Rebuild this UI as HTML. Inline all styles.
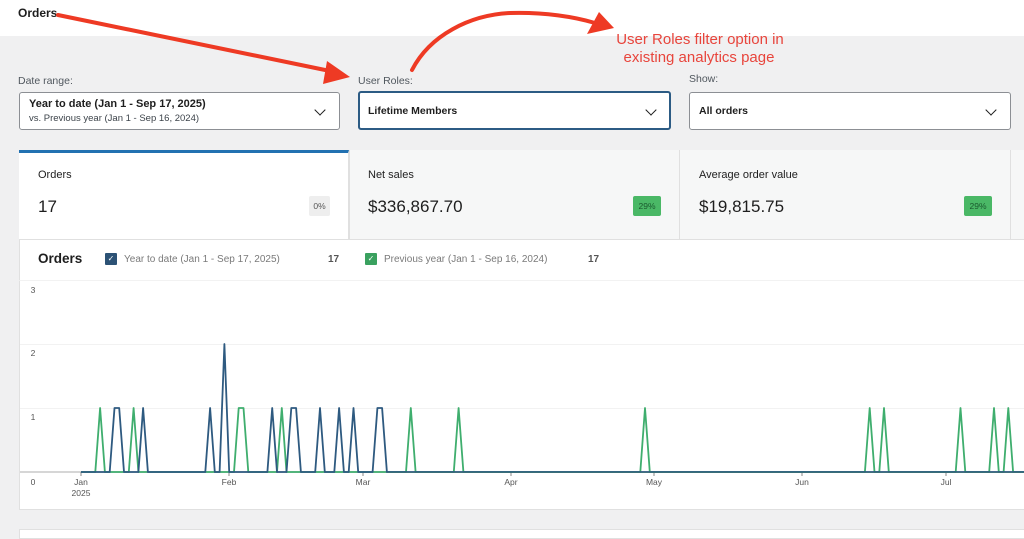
<!DOCTYPE html>
<html><head><meta charset="utf-8">
<style>
*{margin:0;padding:0;box-sizing:border-box}
body{width:1024px;height:532px;overflow:hidden;background:#f0f0f1;font-family:"Liberation Sans",Arial,sans-serif;position:relative;color:#1e1e1e}
.a{position:absolute;white-space:nowrap}
.lbl{font-size:10.5px;color:#50575e}
.sel{position:absolute;background:#fff;border:1px solid #8c8f94;border-radius:3px}
.chev{position:absolute;width:8px;height:8px;border-right:1.6px solid #1e1e1e;border-bottom:1.6px solid #1e1e1e;transform:rotate(45deg)}
.tile{position:absolute;top:150px;height:90px;background:#f6f7f7;border-right:1px solid #e0e0e0;border-bottom:1px solid #e0e0e0}
.tl{font-size:11px;color:#1e1e1e}
.tv{font-size:17px;color:#1e1e1e}
.badge{position:absolute;height:20px;width:28px;border-radius:2px;font-size:8.5px;line-height:20px;text-align:center}
.g{background:#4ab866;color:#1a5a2e}
</style></head><body>
<div class="a" style="left:0;top:0;width:1024px;height:36px;background:#fff"></div>
<div class="a" style="left:18px;top:6px;font-size:12px;font-weight:bold">Orders</div>

<div class="a lbl" style="left:18px;top:75px">Date range:</div>
<div class="a lbl" style="left:358px;top:75px">User Roles:</div>
<div class="a lbl" style="left:689px;top:73px">Show:</div>

<div class="sel" style="left:19px;top:92px;width:321px;height:38px"></div>
<div class="a" style="left:29px;top:98px;font-size:11px;font-weight:bold">Year to date (Jan 1 - Sep 17, 2025)</div>
<div class="a" style="left:29px;top:113px;font-size:9.5px;color:#3c434a">vs. Previous year (Jan 1 - Sep 16, 2024)</div>
<div class="chev" style="left:316px;top:106px"></div>

<div class="sel" style="left:358px;top:91px;width:313px;height:39px;border:2px solid #2c5b84"></div>
<div class="a" style="left:368px;top:105px;font-size:10.5px;font-weight:bold">Lifetime Members</div>
<div class="chev" style="left:647px;top:106px"></div>

<div class="sel" style="left:689px;top:92px;width:322px;height:38px"></div>
<div class="a" style="left:699px;top:105px;font-size:10.5px;font-weight:bold">All orders</div>
<div class="chev" style="left:987px;top:106px"></div>

<!-- tiles -->
<div class="tile" style="left:19px;width:330px;background:#fff;border-top:3px solid #2271b1"></div>
<div class="tile" style="left:349px;width:331px;border-left:1px solid #e0e0e0"></div>
<div class="tile" style="left:680px;width:331px"></div>
<div class="tile" style="left:1011px;width:20px"></div>
<div class="a tl" style="left:38px;top:169px">Orders</div>
<div class="a tv" style="left:38px;top:197px">17</div>
<div class="badge" style="left:309px;top:196px;width:21px;background:#eee;color:#555">0%</div>
<div class="a tl" style="left:368px;top:169px">Net sales</div>
<div class="a tv" style="left:368px;top:197px">$336,867.70</div>
<div class="badge g" style="left:633px;top:196px">29%</div>
<div class="a tl" style="left:699px;top:169px">Average order value</div>
<div class="a tv" style="left:699px;top:197px">$19,815.75</div>
<div class="badge g" style="left:964px;top:196px">29%</div>

<!-- chart panel -->
<div class="a" style="left:19px;top:240px;width:1010px;height:270px;background:#fff;border-left:1px solid #e0e0e0;border-bottom:1px solid #e0e0e0"></div>
<div class="a" style="left:19px;top:280px;width:1010px;height:1px;background:#ececec"></div>
<div class="a" style="left:38px;top:251px;font-size:13.5px;font-weight:bold;color:#1e1e1e">Orders</div>
<div class="a" style="left:105px;top:253px;width:12px;height:12px;background:#2c5275;border-radius:1px;color:#fff;font-size:8px;line-height:12px;text-align:center">✓</div>
<div class="a" style="left:124px;top:254px;font-size:10px;color:#7a7a7a">Year to date (Jan 1 - Sep 17, 2025)</div>
<div class="a" style="left:328px;top:254px;font-size:10px;font-weight:bold;color:#555">17</div>
<div class="a" style="left:365px;top:253px;width:12px;height:12px;background:#3aa15f;border-radius:1px;color:#fff;font-size:8px;line-height:12px;text-align:center">✓</div>
<div class="a" style="left:384px;top:254px;font-size:10px;color:#7a7a7a">Previous year (Jan 1 - Sep 16, 2024)</div>
<div class="a" style="left:588px;top:254px;font-size:10px;font-weight:bold;color:#555">17</div>

<div class="a" style="left:19px;top:529px;width:1010px;height:10px;background:#fff;border:1px solid #e0e0e0"></div>

<svg class="a" style="left:0;top:0" width="1024" height="532" viewBox="0 0 1024 532">
<g stroke="#f2f2f2" stroke-width="1">
<line x1="20" y1="280.5" x2="1024" y2="280.5"/>
<line x1="20" y1="344.5" x2="1024" y2="344.5"/>
<line x1="20" y1="408.5" x2="1024" y2="408.5"/>
</g>
<line x1="20" y1="472" x2="1024" y2="472" stroke="#c8c8c8" stroke-width="1.5"/>
<g stroke="#888" stroke-width="1">
<line x1="81" y1="472" x2="81" y2="476"/><line x1="229" y1="472" x2="229" y2="476"/>
<line x1="363" y1="472" x2="363" y2="476"/><line x1="511" y1="472" x2="511" y2="476"/>
<line x1="654" y1="472" x2="654" y2="476"/><line x1="802" y1="472" x2="802" y2="476"/>
<line x1="946" y1="472" x2="946" y2="476"/>
</g>
<g font-family="Liberation Sans, Arial, sans-serif" font-size="8.5" fill="#555" text-anchor="middle">
<text x="33" y="293">3</text><text x="33" y="356">2</text><text x="33" y="420">1</text><text x="33" y="485">0</text>
<text x="81" y="485">Jan</text><text x="81" y="496">2025</text>
<text x="229" y="485">Feb</text><text x="363" y="485">Mar</text><text x="511" y="485">Apr</text>
<text x="654" y="485">May</text><text x="802" y="485">Jun</text><text x="946" y="485">Jul</text>
</g>
<polyline fill="none" stroke="#3fae6e" stroke-width="1.8" stroke-linejoin="round" points="81,472 95.3,472 100.1,408 104.9,472 128.8,472 133.6,408 138.4,472 234,472 238.7,408 243.5,408 248.3,472 277,472 281.8,408 286.5,472 406,472 410.8,408 415.6,472 453.8,472 458.6,408 463.4,472 640.3,472 645,408 649.8,472 864.9,472 869.7,408 874.5,472 879.3,472 884,408 888.8,472 955.7,472 960.5,408 965.3,472 989.2,472 994,408 998.8,472 1003.6,472 1008.3,408 1013.1,472 1024,472"/>
<polyline fill="none" stroke="#2e5a80" stroke-width="1.8" stroke-linejoin="round" points="81,472 109.7,472 114.5,408 119.2,408 124,472 138.4,472 143.1,408 147.9,472 205.3,472 210.1,408 214.8,472 219.6,472 224.4,344 229.2,472 267.4,472 272.2,408 277,472 286.5,472 291.3,408 296.1,408 300.9,472 315.2,472 320,408 324.8,472 334.3,472 339.1,408 343.9,472 348.7,472 353.5,408 358.2,472 372.6,472 377.4,408 382.1,408 386.9,472 1024,472"/>
<polyline fill="none" stroke="#3e7670" stroke-width="1" points="387,472.5 1024,472.5" opacity="0.5"/>

<!-- annotation arrows -->
<line x1="58" y1="15" x2="330" y2="71" stroke="#ee3a24" stroke-width="4" stroke-linecap="round"/>
<polygon points="327,61 350,77 323,84" fill="#ee3a24"/>
<path d="M412,70 C430,35 470,15 510,13 C545,12 575,17 595,23" fill="none" stroke="#ee3a24" stroke-width="4" stroke-linecap="round"/>
<polygon points="599,12 614,28 587,34" fill="#ee3a24"/>
<g font-family="Liberation Sans, Arial, sans-serif" font-size="15" fill="#e8453c" text-anchor="middle">
<text x="700" y="44">User Roles filter option in</text>
<text x="699" y="62">existing analytics page</text>
</g>
</svg>
</body></html>
